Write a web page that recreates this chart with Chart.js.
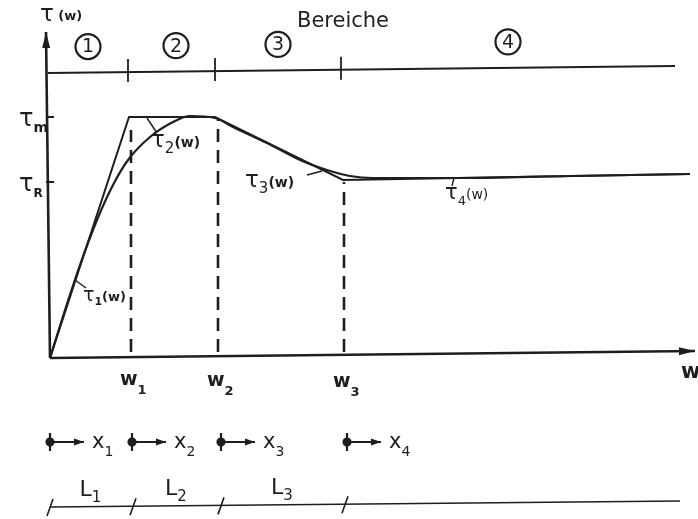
<!DOCTYPE html>
<html>
<head>
<meta charset="utf-8">
<script src="https://cdn.jsdelivr.net/npm/chart.js@4.4.1/dist/chart.umd.min.js"></script>
<style>
  html, body { margin: 0; padding: 0; background: #fff; }
  canvas { display: block; }
</style>
</head>
<body>
<canvas id="grafico" width="698" height="519"></canvas>
<script>
// Stuetzstellen w1..w3 und Niveaus (Einheiten der w- bzw. tau-Achse)
const wStellen = [81, 168, 294];
const wNamen = ["1", "2", "3"];
const tauM = 241;
const tauR = 176;

// glatte Kurve tau(w)
const kurveX = [0, 15, 30, 47, 63, 78, 100, 123, 140, 165, 183, 217, 250, 277, 300, 323, 400, 520, 640];
const kurveY = [0, 48, 93, 138, 173, 198, 221, 236, 242, 240, 231, 215, 198, 188, 182, 180, 180, 182, 184];

// abschnittsweise Naeherung tau1(w) .. tau4(w)
const naeherungX = [0, 79, 165, 293, 640];
const naeherungY = [0, 241, 241, 178, 184];

// Oberkanten der gestrichelten Linien
const strichOben = [228, 238, 176];

// Bereichs-Linie oben
const bereichX = [-2, 625];
const bereichY = [285, 292];
const bereichNamen = ["1", "2", "3", "4"];

// Laufvariablen x1..x4 und Laengen L1..L3
const xStart = [0, 82, 171, 297];
const xNamen = ["1", "2", "3", "4"];
const lTeilung = [0, 83, 171, 295, 630];
const lNamen = ["1", "2", "3"];

const farbe = "#1e1e1e";

function seg(punkte) {
    // Segmente mit null trennen
    const out = [];
    punkte.forEach((p, i) => {
        if (i > 0) out.push({ x: p[0][0], y: null });
        p.forEach(q => out.push({ x: q[0], y: q[1] }));
    });
    return out;
}

const kurve = kurveX.map((x, i) => ({ x: x, y: kurveY[i] }));
const naeherung = naeherungX.map((x, i) => ({ x: x, y: naeherungY[i] }));

const gestrichelt = seg(wStellen.map((w, i) => [[w, 6], [w, strichOben[i]]]));

function bereichYAn(x) {
    return bereichY[0] + (bereichY[1] - bereichY[0]) * (x - bereichX[0]) / (bereichX[1] - bereichX[0]);
}
const bereichTicks = seg(wStellen.map(w => [[w - 3, bereichYAn(w) - 10], [w - 3, bereichYAn(w) + 13]]));

const pfeile = seg(xStart.map(x => [[x, -84], [x + 34, -84]]));
const pfeilStriche = seg(xStart.map(x => [[x, -75], [x, -93]]));

function lYAn(x) { return -149 + 6 * x / 630; }
const lLinie = [{ x: 0, y: lYAn(0) }, { x: 630, y: lYAn(630) }];
const lTicks = seg(lTeilung.slice(0, 4).map(x => [[x + 3, lYAn(x) + 8], [x - 3, lYAn(x) - 9]]));

const fuehrung = seg([
    [[25, 78], [36, 70]],
    [[97, 240], [107, 225]],
    [[257, 183], [272, 187]],
    [[404, 180], [402, 172]]
]);

function linie(daten, extra) {
    return Object.assign({
        data: daten, showLine: true, borderColor: farbe, backgroundColor: farbe,
        borderWidth: 2, pointRadius: 0, pointHoverRadius: 0, tension: 0, spanGaps: false
    }, extra || {});
}

// Texte: Teile [text, groesse, versatz, gewicht]
const F = "'DejaVu Sans', sans-serif";
const beschriftungen = [
    { x: -10, y: 337, teile: [["τ", 23, 0], [" (w)", 13, -1, "bold"]] },
    { x: 247, y: 331, teile: [["Bereiche", 21, 0]] },
    { x: -31, y: 232, teile: [["τ", 24, 0], ["m", 14, 6, "bold"]] },
    { x: -31, y: 167, teile: [["τ", 24, 0], ["R", 12, 6, "bold"]] },
    { x: 631, y: -20, teile: [["w", 21, 0, "bold"]] },
    { x: 33, y: 57, teile: [["τ", 19, 0], ["1", 11, 4, "bold"], ["(w)", 13, 0, "bold"]] },
    { x: 101, y: 211, teile: [["τ", 23, 0], ["2", 15, 6], ["(w)", 14, 0, "bold"]] },
    { x: 195, y: 171, teile: [["τ", 23, 0], ["3", 15, 6], ["(w)", 14, 0, "bold"]] },
    { x: 395, y: 159, teile: [["τ", 21, 0], ["4", 13, 6], ["(w)", 14, 0]] }
];
wStellen.forEach((w, i) => {
    beschriftungen.push({ x: w - 11, y: -27 - i, teile: [["w", 19, 0, "bold"], [wNamen[i], 13, 9, "bold"]] });
});
xStart.forEach((x, i) => {
    beschriftungen.push({ x: x + 42, y: -90, teile: [["x", 21, 0], [xNamen[i], 14, 8]] });
});
lNamen.forEach((n, i) => {
    const m = (lTeilung[i] + lTeilung[i + 1]) / 2;
    beschriftungen.push({ x: m - 12, y: lYAn(m) + 11, teile: [["L", 22, 0], [n, 15, 6]] });
});

const bereichMitten = [38, 126, 228, 458];

const zeichenPlugin = {
    id: "zeichen",
    afterDatasetsDraw(chart) {
        const ctx = chart.ctx;
        const sx = chart.scales.x, sy = chart.scales.y;
        ctx.save();
        ctx.fillStyle = farbe;
        ctx.strokeStyle = farbe;

        // Pfeilspitzen
        chart.data.datasets.forEach(ds => {
            if (!ds.pfeil) return;
            const d = ds.data;
            for (let i = 1; i < d.length; i++) {
                const endet = (i === d.length - 1) || d[i + 1].y === null;
                if (d[i].y === null || d[i - 1].y === null || !endet) continue;
                const x1 = sx.getPixelForValue(d[i - 1].x), y1 = sy.getPixelForValue(d[i - 1].y);
                const x2 = sx.getPixelForValue(d[i].x), y2 = sy.getPixelForValue(d[i].y);
                const a = Math.atan2(y2 - y1, x2 - x1);
                const l = ds.pfeil[0], b = ds.pfeil[1];
                ctx.beginPath();
                ctx.moveTo(x2, y2);
                ctx.lineTo(x2 - l * Math.cos(a) + b * Math.sin(a), y2 - l * Math.sin(a) - b * Math.cos(a));
                ctx.lineTo(x2 - l * Math.cos(a) - b * Math.sin(a), y2 - l * Math.sin(a) + b * Math.cos(a));
                ctx.closePath();
                ctx.fill();
            }
        });

        // Kreise mit Bereichsnummern
        bereichNamen.forEach((n, i) => {
            const cx = sx.getPixelForValue(bereichMitten[i]);
            const cy = sy.getPixelForValue(bereichYAn(bereichMitten[i]) + 26);
            ctx.lineWidth = 2.2;
            ctx.beginPath();
            ctx.arc(cx, cy, 12.5, 0, Math.PI * 2);
            ctx.stroke();
            ctx.font = "19px " + F;
            ctx.textAlign = "center";
            ctx.textBaseline = "middle";
            ctx.fillText(n, cx, cy + 1);
        });

        // Texte
        ctx.textAlign = "left";
        ctx.textBaseline = "alphabetic";
        beschriftungen.forEach(b => {
            let px = sx.getPixelForValue(b.x);
            const py = sy.getPixelForValue(b.y);
            b.teile.forEach(t => {
                ctx.font = (t[3] || "normal") + " " + t[1] + "px " + F;
                ctx.fillText(t[0], px, py + t[2]);
                px += ctx.measureText(t[0]).width;
            });
        });
        ctx.restore();
    }
};

new Chart(document.getElementById("grafico"), {
    type: "scatter",
    data: {
        datasets: [
            linie([{ x: 0, y: 0 }, { x: -4, y: 326 }], { borderWidth: 2.6, pfeil: [16, 4] }),
            linie([{ x: 0, y: 0 }, { x: 645, y: 7 }], { borderWidth: 2.4, pfeil: [16, 4] }),
            linie([{ x: -4, y: tauM }, { x: 4, y: tauM }, { x: 0, y: null }, { x: -4, y: tauR }, { x: 4, y: tauR }]),
            linie(kurve, { cubicInterpolationMode: "monotone", borderWidth: 2.2 }),
            linie(naeherung, { borderWidth: 2 }),
            linie(gestrichelt, { borderDash: [13, 8], borderWidth: 2.6 }),
            linie(bereichX.map((x, i) => ({ x: x, y: bereichY[i] })), { borderWidth: 1.8 }),
            linie(bereichTicks, { borderWidth: 1.8 }),
            linie(pfeile, { borderWidth: 2.2, pfeil: [10, 3.5],
                pointRadius: c => (c.dataIndex % 3 === 0 ? 3.5 : 0) }),
            linie(pfeilStriche, { borderWidth: 2.2 }),
            linie(lLinie, { borderWidth: 1.6 }),
            linie(lTicks, { borderWidth: 1.6 }),
            linie(fuehrung, { borderWidth: 1.4 })
        ]
    },
    options: {
        responsive: false,
        animation: false,
        events: [],
        layout: { padding: 0, autoPadding: false },
        plugins: { legend: { display: false }, tooltip: { enabled: false } },
        scales: {
            x: { type: "linear", min: -50, max: 648, display: false },
            y: { type: "linear", min: -161, max: 358, display: false }
        }
    },
    plugins: [zeichenPlugin]
});
</script>
</body>
</html>
